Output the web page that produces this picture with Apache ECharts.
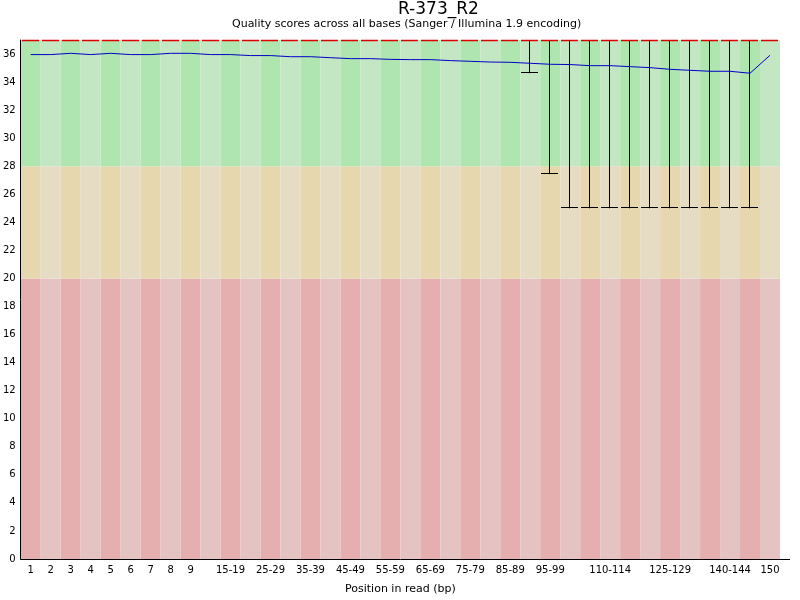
<!DOCTYPE html>
<html><head><meta charset="utf-8">
<script src="https://cdn.jsdelivr.net/npm/echarts@6/dist/echarts.min.js"></script>
<style>html,body{margin:0;padding:0;background:#fff}#c{width:800px;height:600px}</style>
</head><body><div id="c"></div>
<script>
const categories = ['1','2','3','4','5','6','7','8','9','10-14','15-19','20-24','25-29','30-34','35-39','40-44','45-49','50-54','55-59','60-64','65-69','70-74','75-79','80-84','85-89','90-94','95-99','100-104','105-109','110-114','115-119','120-124','125-129','130-134','135-139','140-144','145-149','150'];
const shownLabels = ['1','2','3','4','5','6','7','8','9','15-19','25-29','35-39','45-49','55-59','65-69','75-79','85-89','95-99','110-114','125-129','140-144','150'];
const meanQuality = [35.96,35.96,36.05,35.96,36.05,35.96,35.96,36.05,36.05,35.96,35.96,35.89,35.89,35.81,35.81,35.74,35.67,35.67,35.62,35.60,35.60,35.53,35.48,35.43,35.41,35.34,35.27,35.25,35.17,35.17,35.10,35.03,34.91,34.84,34.77,34.77,34.63,35.91];
const medianQuality = [37,37,37,37,37,37,37,37,37,37,37,37,37,37,37,37,37,37,37,37,37,37,37,37,37,37,37,37,37,37,37,37,37,37,37,37,37,37];
const lowerQuartile = [37,37,37,37,37,37,37,37,37,37,37,37,37,37,37,37,37,37,37,37,37,37,37,37,37,37,37,37,37,37,37,37,37,37,37,37,37,37];
const upperQuartile = [37,37,37,37,37,37,37,37,37,37,37,37,37,37,37,37,37,37,37,37,37,37,37,37,37,37,37,37,37,37,37,37,37,37,37,37,37,37];
const upper90 = [37,37,37,37,37,37,37,37,37,37,37,37,37,37,37,37,37,37,37,37,37,37,37,37,37,37,37,37,37,37,37,37,37,37,37,37,37,37];
const lower10 = [37,37,37,37,37,37,37,37,37,37,37,37,37,37,37,37,37,37,37,37,37,37,37,37,37,34.63,27.44,25,25,25,25,25,25,25,25,25,25,37];
const zoneBounds = [0, 20, 28, 37];
const yTicks = [0,2,4,6,8,10,12,14,16,18,20,22,24,26,28,30,32,34,36];

const FONT = 'DejaVu Sans';
const zoneColors = [
  ['rgb(230,175,175)','rgb(230,195,195)'],
  ['rgb(230,215,175)','rgb(230,220,195)'],
  ['rgb(175,230,175)','rgb(195,230,195)']
];

const chart = echarts.init(document.getElementById('c'), null, {renderer:'canvas'});

const zoneData = categories.map((c,i)=>[i]);
const boxData = categories.map((c,i)=>[i, lower10[i], lowerQuartile[i], medianQuality[i], upperQuartile[i], upper90[i]]);

chart.setOption({
  animation:false,
  backgroundColor:'#fff',
  title:[
    {text:'R-373_R2', left:398, top:1, padding:0, textStyle:{fontFamily:FONT, fontSize:17, fontWeight:'normal', color:'#000'}},
    {text:'Quality scores across all bases (Sanger / Illumina 1.9 encoding)', left:232, top:19, padding:0, textStyle:{fontFamily:FONT, fontSize:11, fontWeight:'normal', color:'#000'}}
  ],
  grid:{left:20, right:20, top:40, bottom:40, containLabel:false},
  xAxis:{
    type:'category', data:categories, boundaryGap:true,
    name:'Position in read (bp)', nameLocation:'middle', nameGap:25,
    nameTextStyle:{fontFamily:FONT, fontSize:11, color:'#000'},
    axisLine:{show:true, lineStyle:{color:'#000', width:1}},
    axisTick:{show:false},
    splitLine:{show:false},
    axisLabel:{interval:(i,v)=>shownLabels.includes(v), fontFamily:FONT, fontSize:10, color:'#000', margin:6, hideOverlap:false}
  },
  yAxis:{
    type:'value', min:0, max:37, interval:2,
    axisLine:{show:true, lineStyle:{color:'#000', width:1}},
    axisTick:{show:false},
    splitLine:{show:false},
    axisLabel:{fontFamily:FONT, fontSize:10, color:'#000', margin:5, showMaxLabel:false,
      formatter:(v)=> yTicks.includes(v) ? String(v) : ''}
  },
  graphic:[{type:'line', shape:{x1:779, y1:559.5, x2:790, y2:559.5}, style:{stroke:'#000', lineWidth:1}, z:10}],
  series:[
    {
      type:'custom', name:'zones', data:zoneData, z:0, silent:true,
      renderItem:(params, api)=>{
        const idx = api.value(0);
        const w = api.size([1,0])[0];
        const children = [];
        for (let z=0; z<3; z++){
          const top = api.coord([idx, zoneBounds[z+1]]);
          const bot = api.coord([idx, zoneBounds[z]]);
          children.push({type:'rect', shape:{x:top[0]-w/2, y:top[1], width:w, height:bot[1]-top[1]},
            style:{fill: zoneColors[z][idx%2]}});
        }
        return {type:'group', children};
      }
    },
    {
      type:'custom', name:'quartiles', data:boxData, z:2, silent:true, clip:false,
      renderItem:(params, api)=>{
        const idx = api.value(0);
        const w = api.size([1,0])[0]*0.85;
        const lo = api.coord([idx, api.value(1)]);
        const q1 = api.coord([idx, api.value(2)]);
        const med = api.coord([idx, api.value(3)]);
        const q3 = api.coord([idx, api.value(4)]);
        const hi = api.coord([idx, api.value(5)]);
        const x = Math.round(lo[0]) - 0.5;
        const children = [];
        if (lo[1] !== hi[1]) {
          children.push({type:'line', shape:{x1:x, y1:hi[1], x2:x, y2:lo[1]}, style:{stroke:'#000', lineWidth:1}});
          children.push({type:'line', shape:{x1:x-w/2, y1:Math.round(lo[1])-0.5, x2:x+w/2, y2:Math.round(lo[1])-0.5}, style:{stroke:'#000', lineWidth:1}});
        }
        if (q1[1] !== q3[1]) {
          children.push({type:'rect', shape:{x:x-w/2, y:q3[1], width:w, height:q1[1]-q3[1]}, style:{fill:'rgb(240,240,0)', stroke:'#000', lineWidth:1}});
        }
        children.push({type:'line', shape:{x1:x-w/2, y1:med[1]+0.5, x2:x+w/2, y2:med[1]+0.5}, style:{stroke:'rgb(220,0,0)', lineWidth:1.5}});
        return {type:'group', children};
      }
    },
    {
      type:'line', name:'mean', data:meanQuality, z:4, symbol:'none', silent:true,
      lineStyle:{color:'rgb(0,0,200)', width:1}
    }
  ]
});
</script>
</body></html>
